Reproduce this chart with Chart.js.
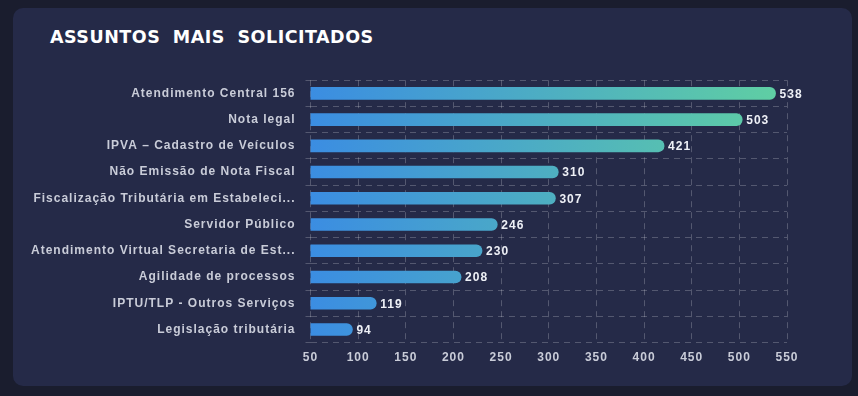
<!DOCTYPE html>
<html>
<head>
<meta charset="utf-8">
<script src="https://cdn.jsdelivr.net/npm/chart.js@4/dist/chart.umd.min.js"></script>
<style>
    body { margin: 0; background: #1a1d2e; width: 858px; height: 396px; overflow: hidden; }
    .card {
        position: absolute; left: 13px; top: 8px; width: 839px; height: 378px;
        background: #252a48; border-radius: 10px;
    }
    .card h2 {
        position: absolute; left: 37px; top: 19px; margin: 0;
        font-family: "DejaVu Sans", sans-serif; font-weight: bold; font-size: 17.5px;
        color: #ffffff; letter-spacing: 0.5px; word-spacing: 6px;
    }
    .chart-box { position: absolute; left: 8px; top: 55px; width: 812px; height: 310px; }
</style>
</head>
<body>
<div class="card">
    <h2>ASSUNTOS MAIS SOLICITADOS</h2>
    <div class="chart-box"><canvas id="myChart"></canvas></div>
</div>
<script>
// categories and values
const subjects = [
    'Atendimento Central 156',
    'Nota legal',
    'IPVA – Cadastro de Veículos',
    'Não Emissão de Nota Fiscal',
    'Fiscalização Tributária em Estabeleci...',
    'Servidor Público',
    'Atendimento Virtual Secretaria de Est...',
    'Agilidade de processos',
    'IPTU/TLP - Outros Serviços',
    'Legislação tributária'
];
const requests = [538, 503, 421, 310, 307, 246, 230, 208, 119, 94];
const xMin = 50;
const xMax = 550;
const xStep = 50;

const labelColor = '#c9ccd8';
const gridColor = 'rgba(255, 255, 255, 0.22)';

// canvas letter spacing, set before measuring and drawing
const spacing = {
    id: 'spacing',
    beforeLayout(chart) { chart.ctx.letterSpacing = '1px'; },
    beforeDraw(chart) { chart.ctx.letterSpacing = '1px'; }
};

// value printed right after each bar
const valueLabels = {
    id: 'valueLabels',
    afterDatasetsDraw(chart) {
        const ctx = chart.ctx;
        ctx.save();
        ctx.letterSpacing = '1px';
        ctx.font = 'bold 12px "Liberation Sans", Arial, sans-serif';
        ctx.fillStyle = '#eef0f6';
        ctx.textAlign = 'left';
        ctx.textBaseline = 'middle';
        chart.getDatasetMeta(0).data.forEach((bar, i) => {
            ctx.fillText(requests[i], bar.x + 4, bar.y + 1);
        });
        ctx.restore();
    }
};

function barGradient(context) {
    const area = context.chart.chartArea;
    if (!area) return '#3d8fe0';
    const g = context.chart.ctx.createLinearGradient(area.left, 0, area.right, 0);
    g.addColorStop(0, '#3b8de2');
    g.addColorStop(1, '#60d0a2');
    return g;
}

const ctx = document.getElementById('myChart');
new Chart(ctx, {
    type: 'bar',
    data: {
        labels: subjects,
        datasets: [{
            data: requests,
            backgroundColor: barGradient,
            borderRadius: 6,
            borderSkipped: 'start',
            barThickness: 12
        }]
    },
    options: {
        indexAxis: 'y',
        responsive: true,
        maintainAspectRatio: false,
        animation: false,
        layout: { padding: { top: 8, right: 46, left: 0, bottom: 0 } },
        scales: {
            x: {
                min: xMin,
                max: xMax,
                ticks: {
                    stepSize: xStep,
                    color: labelColor,
                    padding: 8,
                    font: { family: '"Liberation Sans", Arial, sans-serif', size: 12, weight: 'bold' }
                },
                grid: { color: gridColor, drawTicks: false },
                border: { display: false, dash: [6, 5] }
            },
            y: {
                ticks: {
                    color: labelColor,
                    padding: 10,
                    font: { family: '"Liberation Sans", Arial, sans-serif', size: 12, weight: 'bold' }
                },
                grid: { color: gridColor, tickLength: 5 },
                border: { display: false, dash: [6, 5] }
            }
        },
        plugins: {
            legend: { display: false },
            tooltip: { enabled: false }
        }
    },
    plugins: [spacing, valueLabels]
});
</script>
</body>
</html>
